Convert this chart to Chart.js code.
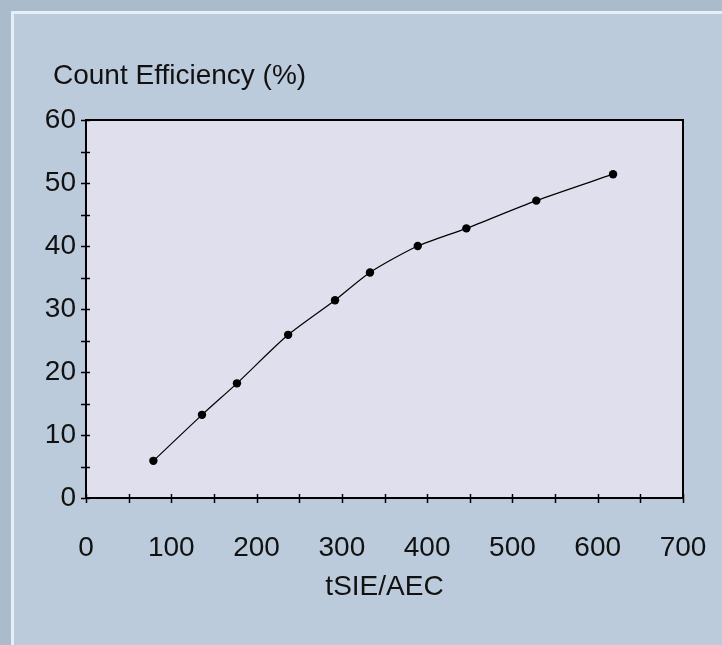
<!DOCTYPE html>
<html>
<head>
<meta charset="utf-8">
<script src="https://cdn.jsdelivr.net/npm/chart.js@4/dist/chart.umd.min.js"></script>
<style>
    html, body { margin: 0; padding: 0; }
    body {
        width: 722px;
        height: 645px;
        background: #aabbcc;
        position: relative;
        overflow: hidden;
    }
    .panel {
        position: absolute;
        left: 11px;
        top: 11px;
        width: 720px;
        height: 640px;
        background: #bccbdb;
        border-left: 3px solid #e6eef7;
        border-top: 3px solid #e6eef7;
    }
    #chartWrap {
        position: absolute;
        left: 0;
        top: 0;
        width: 722px;
        height: 645px;
    }
</style>
</head>
<body>
<div class="panel"></div>
<div id="chartWrap"><canvas id="effChart" width="722" height="645"></canvas></div>
<script>
// tSIE/AEC vs count efficiency calibration points
const tsieValues = [79, 136, 177, 237, 292, 333, 389, 446, 528, 618];
const efficiencyValues = [5.9, 13.2, 18.2, 25.9, 31.4, 35.8, 40.0, 42.8, 47.2, 51.4];

const xTickLabels = [0, 100, 200, 300, 400, 500, 600, 700];
const yTickLabels = [0, 10, 20, 30, 40, 50, 60];

const FONT = "'Liberation Sans', Arial, sans-serif";
const TEXT_COLOR = '#111';

// plot background, frame and the cross ticks on both axes
const framePlugin = {
    id: 'frame',
    beforeDraw(chart) {
        const { ctx, chartArea: a } = chart;
        ctx.save();
        ctx.fillStyle = '#e0dfee';
        ctx.fillRect(a.left, a.top, a.right - a.left, a.bottom - a.top);
        ctx.restore();
    },
    beforeDatasetsDraw(chart) {
        const { ctx, chartArea: a, scales } = chart;
        ctx.save();
        ctx.strokeStyle = '#000';
        ctx.lineWidth = 2;
        ctx.strokeRect(a.left, a.top, a.right - a.left, a.bottom - a.top);

        ctx.lineWidth = 1.5;
        ctx.beginPath();
        scales.x.ticks.forEach(t => {
            const x = Math.round(scales.x.getPixelForValue(t.value)) + 0.5;
            ctx.moveTo(x, a.bottom - 4);
            ctx.lineTo(x, a.bottom + 5);
        });
        scales.y.ticks.forEach(t => {
            const y = Math.round(scales.y.getPixelForValue(t.value)) + 0.5;
            ctx.moveTo(a.left - 5, y);
            ctx.lineTo(a.left + 4, y);
        });
        ctx.stroke();
        ctx.restore();
    },
    afterDraw(chart) {
        const { ctx, chartArea: a } = chart;
        ctx.save();
        ctx.fillStyle = TEXT_COLOR;
        ctx.font = '28px ' + FONT;
        ctx.textBaseline = 'middle';
        ctx.textAlign = 'left';
        ctx.fillText('Count Efficiency (%)', 53, 76);
        ctx.textAlign = 'center';
        ctx.fillText('tSIE/AEC', (a.left + a.right) / 2, 587);
        ctx.restore();
    }
};

const ctx = document.getElementById('effChart').getContext('2d');
new Chart(ctx, {
    type: 'scatter',
    data: {
        datasets: [{
            data: tsieValues.map((x, i) => ({ x: x, y: efficiencyValues[i] })),
            showLine: true,
            borderColor: '#000',
            borderWidth: 1.2,
            tension: 0.25,
            pointRadius: 4.2,
            pointBackgroundColor: '#000',
            pointBorderColor: '#000',
            pointBorderWidth: 0
        }]
    },
    options: {
        responsive: false,
        animation: false,
        layout: { padding: { left: 0, right: 39, top: 120, bottom: 0 } },
        plugins: {
            legend: { display: false },
            tooltip: { enabled: false }
        },
        scales: {
            x: {
                type: 'linear',
                min: 0,
                max: 700,
                grid: { display: false },
                border: { display: false },
                afterFit(scale) {
                    scale.height = 147;
                    scale.paddingLeft = 0;
                    scale.paddingRight = 0;
                },
                ticks: {
                    stepSize: 50,
                    autoSkip: false,
                    maxRotation: 0,
                    padding: 25,
                    color: TEXT_COLOR,
                    font: { family: FONT, size: 28 },
                    callback: v => xTickLabels.includes(v) ? String(v) : ''
                }
            },
            y: {
                type: 'linear',
                min: 0,
                max: 60,
                grid: { display: false },
                border: { display: false },
                afterFit(scale) {
                    scale.width = 86;
                    scale.paddingTop = 0;
                    scale.paddingBottom = 0;
                },
                ticks: {
                    stepSize: 5,
                    autoSkip: false,
                    padding: 2,
                    color: TEXT_COLOR,
                    font: { family: FONT, size: 28 },
                    callback: v => yTickLabels.includes(v) ? String(v) : ''
                }
            }
        }
    },
    plugins: [framePlugin]
});
</script>
</body>
</html>
